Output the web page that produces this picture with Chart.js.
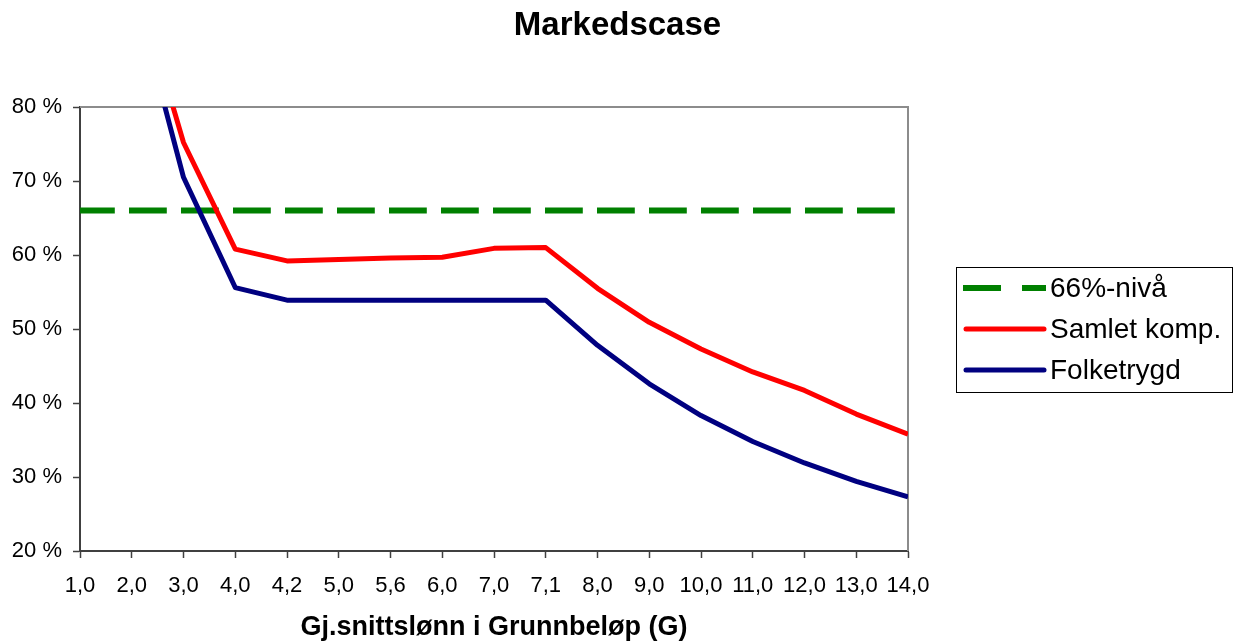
<!DOCTYPE html>
<html lang="no">
<head>
<meta charset="utf-8">
<title>Markedscase</title>
<script src="https://cdn.jsdelivr.net/npm/chart.js@4.4.1/dist/chart.umd.min.js"></script>
<style>
  html, body { margin: 0; padding: 0; background: #ffffff; }
  #wrap { width: 1235px; height: 644px; position: relative; }
</style>
</head>
<body>
<div id="wrap"><canvas id="chart" width="1235" height="644"></canvas></div>
<script>
// Gjennomsnittslønn målt i grunnbeløp (G)
const categories = ['1,0', '2,0', '3,0', '4,0', '4,2', '5,0', '5,6', '6,0', '7,0', '7,1',
                    '8,0', '9,0', '10,0', '11,0', '12,0', '13,0', '14,0'];

// Kompensasjonsgrad i prosent
const nivaa66   = [66, 66, 66, 66, 66, 66, 66, 66, 66, 66, 66, 66, 66, 66, 66, 66, 66];
const samletKomp = [150, 99, 75.2, 60.8, 59.2, 59.4, 59.6, 59.7, 60.9, 61.0,
                    55.5, 50.9, 47.3, 44.2, 41.7, 38.5, 35.8];
const folketrygd = [145, 97, 70.5, 55.6, 53.9, 53.9, 53.9, 53.9, 53.9, 53.9,
                    47.8, 42.6, 38.3, 34.8, 31.9, 29.4, 27.3];

const yTicks = [20, 30, 40, 50, 60, 70, 80];

const seriesNames = ['66%-nivå', 'Samlet komp.', 'Folketrygd'];
const seriesColors = ['#008000', '#ff0000', '#000080'];

const FONT = '"Liberation Sans", Arial, Helvetica, sans-serif';

// Plot frame: grey top/right edges
const framePlugin = {
  id: 'frame',
  beforeDatasetsDraw(chart) {
    const { ctx, chartArea: a } = chart;
    ctx.save();
    ctx.strokeStyle = '#8c8c8c';
    ctx.lineWidth = 2;
    ctx.beginPath();
    ctx.moveTo(a.left, a.top);
    ctx.lineTo(a.right, a.top);
    ctx.lineTo(a.right, a.bottom);
    ctx.stroke();
    ctx.restore();
  }
};

// Boxed legend to the right of the plot
const boxLegend = {
  id: 'boxLegend',
  afterDraw(chart) {
    const { ctx } = chart;
    const box = { x: 956.5, y: 267.5, w: 276, h: 125 };
    const rows = [288, 329, 370];
    ctx.save();
    ctx.strokeStyle = '#000000';
    ctx.lineWidth = 1;
    ctx.strokeRect(box.x, box.y, box.w, box.h);
    chart.data.datasets.forEach((ds, i) => {
      const y = rows[i];
      ctx.beginPath();
      ctx.strokeStyle = ds.borderColor;
      if (ds.borderDash && ds.borderDash.length) {
        ctx.lineWidth = 6;
        ctx.lineCap = 'butt';
        ctx.setLineDash([38, 21]);
        ctx.moveTo(963, y);
        ctx.lineTo(1046, y);
      } else {
        ctx.lineWidth = 5;
        ctx.lineCap = 'round';
        ctx.setLineDash([]);
        ctx.moveTo(966, y);
        ctx.lineTo(1044, y);
      }
      ctx.stroke();
      ctx.setLineDash([]);
      ctx.fillStyle = '#000000';
      ctx.font = '28px ' + FONT;
      ctx.textAlign = 'left';
      ctx.textBaseline = 'middle';
      ctx.fillText(ds.label, 1050, y + 1);
    });
    ctx.restore();
  }
};

new Chart(document.getElementById('chart'), {
  type: 'line',
  data: {
    labels: categories,
    datasets: [
      {
        label: seriesNames[0],
        data: nivaa66,
        borderColor: seriesColors[0],
        borderWidth: 6,
        borderDash: [37.8, 14.2],
        borderDashOffset: 3,
        borderCapStyle: 'butt',
        pointRadius: 0,
        tension: 0,
        clip: 0,
        order: 3
      },
      {
        label: seriesNames[1],
        data: samletKomp,
        borderColor: seriesColors[1],
        borderWidth: 5,
        borderJoinStyle: 'round',
        pointRadius: 0,
        tension: 0,
        clip: 0,
        order: 1
      },
      {
        label: seriesNames[2],
        data: folketrygd,
        borderColor: seriesColors[2],
        borderWidth: 5,
        borderJoinStyle: 'round',
        pointRadius: 0,
        tension: 0,
        clip: 0,
        order: 2
      }
    ]
  },
  options: {
    responsive: false,
    animation: false,
    devicePixelRatio: 1,
    layout: { padding: 0 },
    plugins: {
      legend: { display: false },
      tooltip: { enabled: false },
      title: {
        display: true,
        text: 'Markedscase',
        color: '#000000',
        font: { family: FONT, size: 33, weight: 'bold', lineHeight: 1.2 },
        padding: { top: 6, bottom: 61.4 }
      }
    },
    scales: {
      x: {
        type: 'category',
        offset: false,
        grid: {
          display: true,
          drawOnChartArea: false,
          drawTicks: true,
          tickLength: 7,
          tickWidth: 1.5,
          tickColor: '#404040'
        },
        border: { display: true, color: '#404040', width: 2 },
        ticks: {
          autoSkip: false,
          maxRotation: 0,
          minRotation: 0,
          padding: 15,
          color: '#000000',
          font: { family: FONT, size: 22 }
        },
        title: {
          display: true,
          text: 'Gj.snittslønn i Grunnbeløp (G)',
          color: '#000000',
          font: { family: FONT, size: 27, weight: 'bold', lineHeight: 1.0 },
          padding: { top: 0, bottom: 3 }
        },
        afterFit(scale) { scale.height = 93; }
      },
      y: {
        min: yTicks[0],
        max: yTicks[yTicks.length - 1],
        afterBuildTicks(scale) { scale.ticks = yTicks.map(v => ({ value: v })); },
        grid: {
          display: true,
          drawOnChartArea: false,
          drawTicks: true,
          tickLength: 7,
          tickWidth: 1.5,
          tickColor: '#404040'
        },
        border: { display: true, color: '#404040', width: 2 },
        ticks: {
          padding: 11,
          color: '#000000',
          font: { family: FONT, size: 22 },
          callback: v => v + ' %'
        },
        afterFit(scale) { scale.width = 80; }
      },
      // empty right-hand band that holds the legend
      legendBand: {
        type: 'linear',
        position: 'right',
        display: true,
        grid: { display: false, drawTicks: false },
        border: { display: false },
        ticks: { display: false },
        afterFit(scale) { scale.width = 327; }
      }
    }
  },
  plugins: [framePlugin, boxLegend]
});
</script>
</body>
</html>
